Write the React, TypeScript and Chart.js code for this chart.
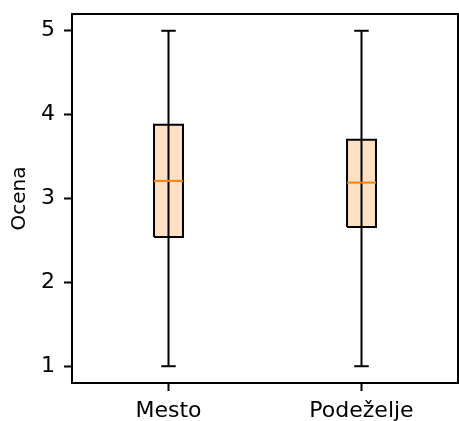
import React, { useEffect, useRef } from "react";
import { Chart, registerables } from "chart.js";

Chart.register(...registerables);

// ---- data ----
const categories: string[] = ["Mesto", "Podeželje"];
const positions: number[] = [1, 2];
const whiskerLow: number[] = [1, 1];
const q1: number[] = [2.54, 2.66];
const medians: number[] = [3.21, 3.19];
const q3: number[] = [3.88, 3.7];
const whiskerHigh: number[] = [5, 5];
const yTicks: number[] = [1, 2, 3, 4, 5];
const yLabel = "Ocena";

const BOX_HALF = 0.075;
const CAP_HALF = 0.0375;
const FONT = "'DejaVu Sans', sans-serif";
const INK = "#000000";
const BOX_FILL = "#fde1c2";
const MEDIAN = "#ff7f0e";

const lineBase = {
  showLine: true,
  pointRadius: 0,
  pointHoverRadius: 0,
  borderWidth: 2,
  tension: 0,
};

function buildDatasets() {
  const ds: any[] = [];
  positions.forEach((x, i) => {
    ds.push({
      ...lineBase,
      data: [
        { x: x - BOX_HALF, y: q1[i] },
        { x: x + BOX_HALF, y: q1[i] },
        { x: x + BOX_HALF, y: q3[i] },
        { x: x - BOX_HALF, y: q3[i] },
        { x: x - BOX_HALF, y: q1[i] },
      ],
      borderColor: INK,
      backgroundColor: BOX_FILL,
      fill: "shape",
      order: 4,
    });
    ds.push({
      ...lineBase,
      data: [
        { x: x, y: whiskerLow[i] },
        { x: x, y: whiskerHigh[i] },
      ],
      borderColor: INK,
      fill: false,
      order: 3,
    });
    ds.push({
      ...lineBase,
      data: [
        { x: x - CAP_HALF, y: whiskerLow[i] },
        { x: x + CAP_HALF, y: whiskerLow[i] },
      ],
      borderColor: INK,
      fill: false,
      order: 3,
    });
    ds.push({
      ...lineBase,
      data: [
        { x: x - CAP_HALF, y: whiskerHigh[i] },
        { x: x + CAP_HALF, y: whiskerHigh[i] },
      ],
      borderColor: INK,
      fill: false,
      order: 3,
    });
    ds.push({
      ...lineBase,
      data: [
        { x: x - BOX_HALF, y: medians[i] },
        { x: x + BOX_HALF, y: medians[i] },
      ],
      borderColor: MEDIAN,
      fill: false,
      order: 1,
    });
  });
  return ds;
}

const framePlugin = {
  id: "frame",
  afterDatasetsDraw(chart: any) {
    const { ctx, chartArea } = chart;
    ctx.save();
    ctx.strokeStyle = INK;
    ctx.lineWidth = 2;
    ctx.strokeRect(
      chartArea.left,
      chartArea.top,
      chartArea.right - chartArea.left,
      chartArea.bottom - chartArea.top
    );
    ctx.restore();
  },
};

export default function App() {
  const ref = useRef<HTMLCanvasElement | null>(null);

  useEffect(() => {
    if (!ref.current) return;
    const chart = new Chart(ref.current, {
      type: "scatter",
      data: { datasets: buildDatasets() },
      options: {
        animation: false,
        responsive: false,
        devicePixelRatio: 1,
        events: [],
        layout: { padding: { top: 14, right: 1, left: 0, bottom: 0 } },
        plugins: {
          legend: { display: false },
          tooltip: { enabled: false },
        },
        scales: {
          x: {
            type: "linear",
            min: 0.5,
            max: 2.5,
            afterBuildTicks: (s: any) => {
              s.ticks = positions.map((v) => ({ value: v }));
            },
            afterFit: (s: any) => {
              s.height = 38;
              s.paddingLeft = 0;
              s.paddingRight = 0;
            },
            ticks: {
              callback: (v: any) => categories[positions.indexOf(Number(v))],
              font: { family: FONT, size: 22 },
              color: INK,
              padding: 7,
              maxRotation: 0,
              autoSkip: false,
            },
            grid: {
              drawOnChartArea: false,
              drawTicks: true,
              tickLength: 8,
              tickWidth: 2,
              tickColor: INK,
            },
            border: { display: false },
          },
          y: {
            type: "linear",
            min: 0.8,
            max: 5.2,
            afterBuildTicks: (s: any) => {
              s.ticks = yTicks.map((v) => ({ value: v }));
            },
            afterFit: (s: any) => {
              s.width = 72;
              s.paddingTop = 0;
              s.paddingBottom = 0;
            },
            ticks: {
              callback: (v: any) => String(v),
              font: { family: FONT, size: 22 },
              color: INK,
              padding: 9,
              autoSkip: false,
            },
            grid: {
              drawOnChartArea: false,
              drawTicks: true,
              tickLength: 8,
              tickWidth: 2,
              tickColor: INK,
            },
            border: { display: false },
            title: {
              display: true,
              text: yLabel,
              font: { family: FONT, size: 20 },
              color: INK,
              padding: { top: 8, bottom: 0 },
            },
          },
        },
      },
      plugins: [framePlugin],
    } as any);
    return () => chart.destroy();
  }, []);

  return (
    <div style={{ position: "fixed", left: 0, top: 0, width: 459, height: 421, background: "#fff" }}>
      <canvas ref={ref} width={459} height={421} style={{ display: "block" }} />
    </div>
  );
}
